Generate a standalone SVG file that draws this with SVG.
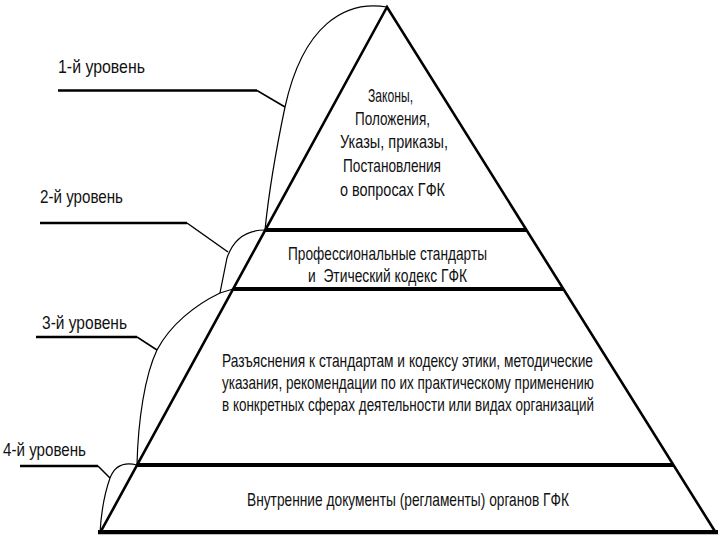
<svg xmlns="http://www.w3.org/2000/svg" width="720" height="540" viewBox="0 0 720 540">
<style>
  .t { font-family: "Liberation Sans", Arial, sans-serif; font-size: 18.5px; fill: #111; }
  .edge { fill: none; stroke: #000; stroke-width: 2.6; stroke-linejoin: miter; }
  .sep { stroke: #000; stroke-width: 4; }
  .lead { fill: none; stroke: #000; stroke-width: 2.4; }
  .diag { fill: none; stroke: #000; stroke-width: 1.5; }
  .brace { fill: none; stroke: #000; stroke-width: 1.2; }
</style>
<rect width="720" height="540" fill="#fff"/>

<g id="pyramid">
  <polygon class="edge" points="387,7 100,533 716,533"/>
  <line class="sep" x1="265" y1="230" x2="526" y2="230"/>
  <line class="sep" x1="233" y1="289" x2="563" y2="289"/>
  <line class="sep" x1="137" y1="465" x2="673" y2="465" stroke-width="3.5"/>
  <line class="sep" x1="98" y1="532" x2="718" y2="532" stroke-width="6"/>
</g>

<g id="level1">
  <text class="t" x="368" y="102" textLength="45" lengthAdjust="spacingAndGlyphs">Законы,</text>
  <text class="t" x="355" y="125" textLength="75" lengthAdjust="spacingAndGlyphs">Положения,</text>
  <text class="t" x="340" y="148" textLength="108" lengthAdjust="spacingAndGlyphs">Указы, приказы,</text>
  <text class="t" x="343" y="172" textLength="98" lengthAdjust="spacingAndGlyphs">Постановления</text>
  <text class="t" x="340" y="196" textLength="105" lengthAdjust="spacingAndGlyphs">о вопросах ГФК</text>
</g>

<g id="level2">
  <text class="t" x="288" y="260" textLength="199" lengthAdjust="spacingAndGlyphs">Профессиональные стандарты</text>
  <text class="t" x="308" y="282" textLength="159" lengthAdjust="spacingAndGlyphs">и&#160; Этический кодекс ГФК</text>
</g>

<g id="level3">
  <text class="t" x="222" y="367" textLength="371" lengthAdjust="spacingAndGlyphs">Разъяснения к стандартам и кодексу этики, методические</text>
  <text class="t" x="222" y="389" textLength="372" lengthAdjust="spacingAndGlyphs">указания, рекомендации по их практическому применению</text>
  <text class="t" x="222" y="411" textLength="372" lengthAdjust="spacingAndGlyphs">в конкретных сферах деятельности или видах организаций</text>
</g>

<g id="level4">
  <text class="t" x="247" y="506" textLength="322" lengthAdjust="spacingAndGlyphs">Внутренние документы (регламенты) органов ГФК</text>
</g>

<g id="label1"><text class="t" x="58" y="73" textLength="87" lengthAdjust="spacingAndGlyphs">1-й уровень</text></g>
<g id="label2"><text class="t" x="40" y="203" textLength="83" lengthAdjust="spacingAndGlyphs">2-й уровень</text></g>
<g id="label3"><text class="t" x="42" y="329" textLength="85" lengthAdjust="spacingAndGlyphs">3-й уровень</text></g>
<g id="label4"><text class="t" x="3" y="456" textLength="83" lengthAdjust="spacingAndGlyphs">4-й уровень</text></g>

<g id="connectors">
  <line class="lead" x1="58" y1="90.5" x2="257" y2="90.5"/>
  <line class="diag" x1="257" y1="90.5" x2="285" y2="107"/>
  <line class="lead" x1="40" y1="223" x2="187" y2="223"/>
  <line class="diag" x1="187" y1="223" x2="228" y2="252"/>
  <line class="lead" x1="36" y1="337" x2="137" y2="337"/>
  <line class="diag" x1="137" y1="337" x2="157" y2="350"/>
  <line class="lead" x1="20" y1="466" x2="98" y2="466"/>
  <line class="diag" x1="98" y1="466" x2="110" y2="478"/>

  <path class="brace" d="M387 7 C345 0 303 25 285 107 C276 150 268 200 265 230"/>
  <path class="brace" d="M265 230 C245 230 233 240 227 258 L220 293 L233 289"/>
  <path class="brace" d="M220 293 C195 305 170 325 157 350 C145 375 138 420 137 465"/>
  <path class="brace" d="M137 465 C125 462 115 465 110 478 C104 495 101 515 100 533"/>
</g>
</svg>
